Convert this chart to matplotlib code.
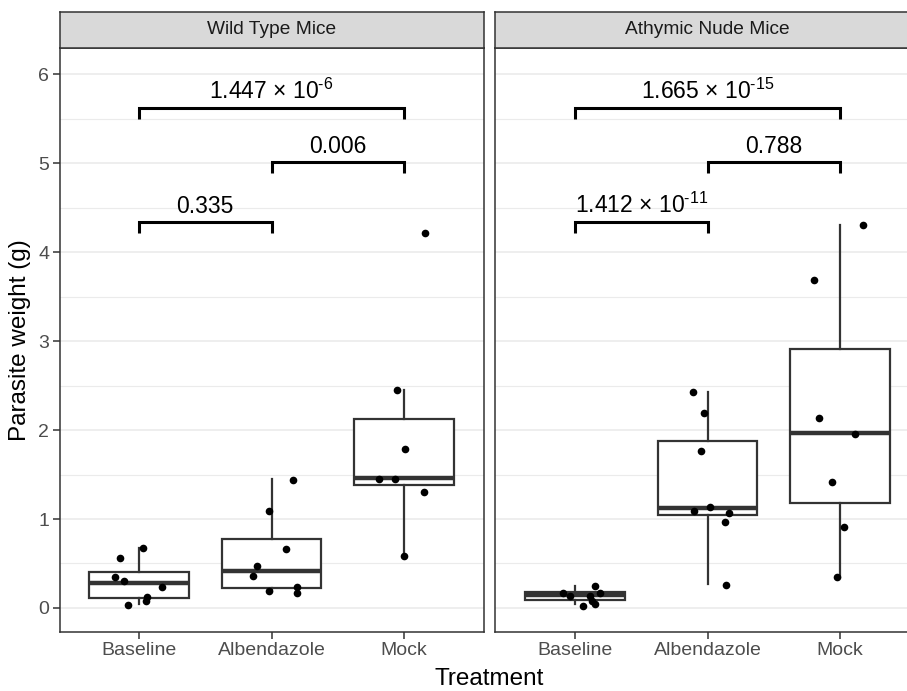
import matplotlib
matplotlib.use("Agg")
from matplotlib import pyplot as plt

plt.rcParams["font.family"] = ["Liberation Sans", "DejaVu Sans"]
plt.rcParams["mathtext.fontset"] = "custom"
plt.rcParams["mathtext.rm"] = "Liberation Sans"
plt.rcParams["mathtext.it"] = "Liberation Sans:italic"

treatments = ["Baseline", "Albendazole", "Mock"]
panels = ["Wild Type Mice", "Athymic Nude Mice"]

# box summaries per treatment: q1, median, q3, lower whisker, upper whisker
wt_box = [(0.11, 0.28, 0.41, 0.05, 0.67),
          (0.23, 0.42, 0.77, 0.19, 1.45),
          (1.38, 1.46, 2.12, 0.58, 2.45)]
nude_box = [(0.09, 0.15, 0.18, 0.045, 0.25),
            (1.04, 1.12, 1.88, 0.27, 2.43),
            (1.18, 1.97, 2.91, 0.35, 4.30)]

# individual mice (g)
wt_baseline = [0.56, 0.67, 0.35, 0.30, 0.24, 0.12, 0.08, 0.03]
wt_albendazole = [1.44, 1.09, 0.66, 0.47, 0.36, 0.19, 0.24, 0.17]
wt_mock = [2.45, 1.79, 1.45, 1.45, 1.30, 0.58, 4.22]
nude_baseline = [0.25, 0.165, 0.14, 0.165, 0.13, 0.08, 0.05, 0.026]
nude_albendazole = [2.43, 2.19, 1.77, 1.13, 1.09, 1.07, 0.97, 0.26]
nude_mock = [4.30, 3.69, 2.13, 1.96, 1.42, 0.91, 0.35]

# horizontal jitter
wt_jitter = [[-0.14, 0.03, -0.18, -0.11, 0.17, 0.06, 0.05, -0.08],
             [0.16, -0.02, 0.11, -0.11, -0.14, -0.02, 0.19, 0.19],
             [-0.05, 0.01, -0.19, -0.07, 0.15, 0.0, 0.16]]
nude_jitter = [[0.15, -0.09, -0.04, 0.19, 0.11, 0.13, 0.15, 0.06],
               [-0.11, -0.03, -0.05, 0.02, -0.10, 0.16, 0.13, 0.14],
               [0.17, -0.20, -0.16, 0.11, -0.06, 0.03, -0.02]]

# comparisons: (group a, group b, bracket height, p value, exponent)
wt_tests = [(1, 2, 4.34, "0.335", None),
            (2, 3, 5.01, "0.006", None),
            (1, 3, 5.62, "1.447", "-6")]
nude_tests = [(1, 2, 4.34, "1.412", "-11"),
              (2, 3, 5.01, "0.788", None),
              (1, 3, 5.62, "1.665", "-15")]

GRID = "#EBEBEB"
DARK = "#333333"
W, H = 907, 691


def p_label(p, ex):
    if ex is None:
        return p
    return r"$\mathregular{%s\ {\times}\ 10^{\text{%s}}}$" % (p, ex)


def draw_panel(ax, box, groups, jitter, tests):
    stats = [dict(q1=q1, med=m, q3=q3, whislo=lo, whishi=hi, fliers=[])
             for q1, m, q3, lo, hi in box]
    ax.bxp(stats, positions=[1, 2, 3], widths=0.75, showcaps=False,
           showfliers=False, patch_artist=True,
           boxprops=dict(facecolor="white", edgecolor=DARK, linewidth=1.6),
           whiskerprops=dict(color=DARK, linewidth=1.6),
           medianprops=dict(color=DARK, linewidth=3.2, solid_capstyle="butt"),
           zorder=2)
    for i, (vals, jit) in enumerate(zip(groups, jitter)):
        ax.plot([i + 1 + j for j in jit], vals, "o", color="black",
                ms=5.5, mew=0, zorder=3)
    for a, b, y, p, ex in tests:
        ax.plot([a, a, b, b], [y - 0.12, y, y, y - 0.12], color="black",
                lw=2.2, solid_joinstyle="miter", solid_capstyle="butt")
        ax.text((a + b) / 2, y + 0.1, p_label(p, ex),
                ha="center", va="baseline", fontsize=16.5)

    ax.set_xlim(0.4, 3.6)
    ax.set_ylim(-0.27, 6.30)
    ax.set_yticks([0, 1, 2, 3, 4, 5, 6])
    ax.set_yticks([0.5, 1.5, 2.5, 3.5, 4.5, 5.5], minor=True)
    ax.set_xticks([1, 2, 3])
    ax.set_xticklabels(treatments)
    ax.grid(True, axis="y", which="major", color=GRID, lw=1.2)
    ax.grid(True, axis="y", which="minor", color=GRID, lw=0.8)
    ax.set_axisbelow(True)
    for s in ax.spines.values():
        s.set_color(DARK)
        s.set_linewidth(1.1)
    ax.tick_params(which="major", length=5, width=1.1, color=DARK,
                   labelsize=14, labelcolor="#4D4D4D", pad=2.5)
    ax.tick_params(which="minor", length=0)


fig = plt.figure(figsize=(W / 100, H / 100), dpi=100)
bottom, top = 1 - 632 / H, 1 - 47.5 / H
strip_top = 1 - 11.7 / H
lefts = [59.5, 495.5]
pw = 424

data = [(wt_box, [wt_baseline, wt_albendazole, wt_mock], wt_jitter, wt_tests),
        (nude_box, [nude_baseline, nude_albendazole, nude_mock], nude_jitter, nude_tests)]

for k, (name, (box, groups, jitter, tests)) in enumerate(zip(panels, data)):
    ax = fig.add_axes([lefts[k] / W, bottom, pw / W, top - bottom])
    draw_panel(ax, box, groups, jitter, tests)
    if k == 1:
        ax.tick_params(axis="y", left=False, labelleft=False)
    st = fig.add_axes([lefts[k] / W, top, pw / W, strip_top - top])
    st.set_facecolor("#D9D9D9")
    st.set_xticks([])
    st.set_yticks([])
    for s in st.spines.values():
        s.set_color(DARK)
        s.set_linewidth(1.1)
    st.text(0.5, 0.5, name, ha="center", va="center", fontsize=13.8,
            color="#1A1A1A", transform=st.transAxes)

fig.text((59.5 + 919.5) / 2 / W, 1 - 679 / H, "Treatment", ha="center",
         va="center", fontsize=17.5)
fig.text(20 / W, 1 - 340 / H, "Parasite weight (g)", ha="center",
         va="center", rotation=90, fontsize=17.5)

fig.savefig("out.png", dpi=100)
